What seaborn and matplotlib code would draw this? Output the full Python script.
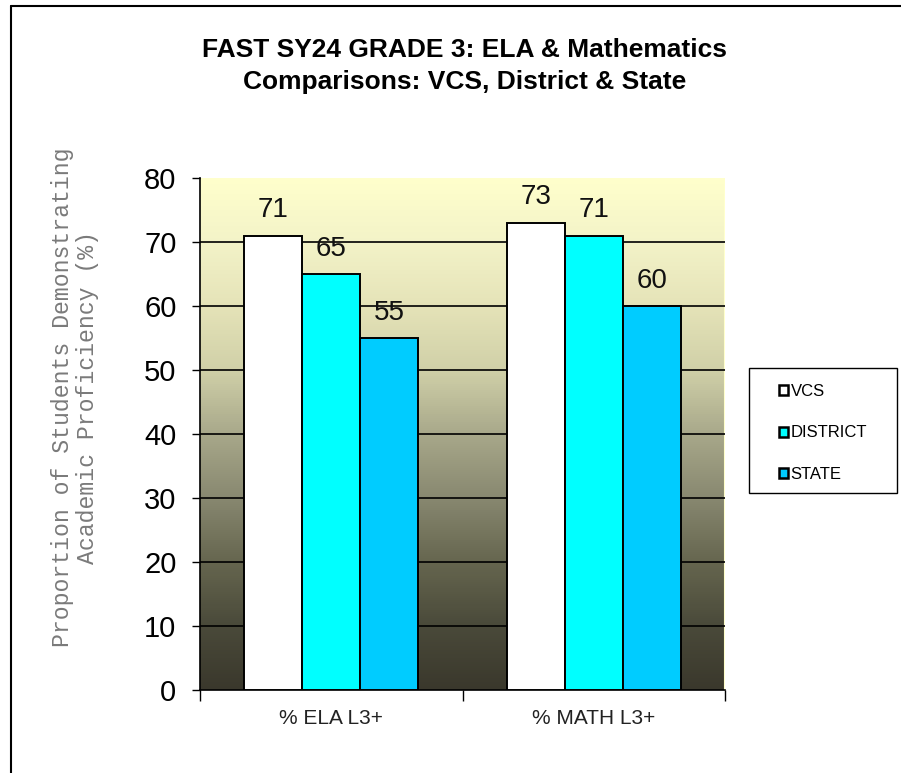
import matplotlib
matplotlib.use("Agg")
import matplotlib.pyplot as plt
import seaborn as sns
import numpy as np
import pandas as pd
from matplotlib.colors import LinearSegmentedColormap
from matplotlib.patches import Rectangle
from matplotlib.lines import Line2D

categories = ["% ELA L3+", "% MATH L3+"]
series = ["VCS", "DISTRICT", "STATE"]
vcs = [71, 73]
district = [65, 71]
state = [55, 60]
colors = ["#FFFFFF", "#00FFFF", "#00CCFF"]
yticks = [0, 10, 20, 30, 40, 50, 60, 70, 80]
title_lines = ["FAST SY24 GRADE 3: ELA & Mathematics", "Comparisons: VCS, District & State"]
ylabel = "Proportion of Students Demonstrating\nAcademic Proficiency (%)"

df = pd.DataFrame({
    "category": categories * 3,
    "series": ["VCS"] * 2 + ["DISTRICT"] * 2 + ["STATE"] * 2,
    "value": vcs + district + state,
})

sns.set_theme(style="white")
plt.rcParams["font.family"] = ["Liberation Sans", "DejaVu Sans"]
plt.rcParams["text.color"] = "black"

fig = plt.figure(figsize=(9.01, 7.73), dpi=100)
W, H = 901, 773
ax = fig.add_axes([200 / W, 1 - 690 / H, 525 / W, 512 / H])

# gradient background
grad_cmap = LinearSegmentedColormap.from_list("bg", [
    (0.0, "#3A382C"), (0.125, "#4A4A3A"), (0.25, "#66664F"), (0.375, "#888870"),
    (0.5, "#A8A88A"), (0.625, "#D0D0A8"), (0.75, "#E5E3B8"), (0.875, "#F3F3C8"),
    (1.0, "#FFFFCC")])
grad = np.linspace(0, 1, 256).reshape(-1, 1)
ax.imshow(grad, aspect="auto", cmap=grad_cmap, origin="lower",
          extent=[-0.5, 1.5, 0, 80], zorder=0)
ax.axvline(1.5, color="#FFFFCC", linewidth=1.5, zorder=1)

sns.barplot(data=df, x="category", y="value", hue="series", order=categories,
            hue_order=series, palette=colors, saturation=1, width=0.663,
            edgecolor="black", linewidth=1.4, ax=ax, zorder=3, legend=False)

ax.set_xlim(-0.5, 1.5)
ax.set_ylim(0, 80)
ax.set_yticks(yticks)
ax.set_yticklabels([str(t) for t in yticks], fontsize=21, color="black")
for t in yticks[1:-1]:
    ax.axhline(t, color="black", linewidth=1.2, zorder=1)
ax.set_xticks([0, 1])
ax.set_xticklabels(categories, fontsize=15, color="#222222")
ax.set_xticks([-0.5, 0.5, 1.5], minor=True)
ax.tick_params(axis="x", which="major", length=0, pad=14)
ax.tick_params(axis="x", which="minor", length=8, width=1, color="black", direction="out")
ax.tick_params(axis="y", length=6, width=1, color="black", direction="out", pad=11)
ax.yaxis.set_ticks_position("left")
ax.xaxis.set_ticks_position("bottom")
for s in ["top", "right"]:
    ax.spines[s].set_visible(False)
for s in ["left", "bottom"]:
    ax.spines[s].set_color("black")
    ax.spines[s].set_linewidth(1.2)
ax.set_xlabel("")
ax.set_ylabel("")

fig.text(75 / W, 1 - 397 / H, ylabel, rotation=90, ha="center", va="center",
         multialignment="center", family=["Liberation Mono", "DejaVu Sans Mono"],
         fontsize=16.7, color="#7a7a7a", linespacing=1.15)

for cont in ax.containers:
    ax.bar_label(cont, fmt="%d", fontsize=20, padding=9, color="#111111")

fig.text(465 / W, 1 - 50 / H, title_lines[0], ha="center", va="center", fontsize=19,
         fontweight="bold", color="black")
fig.text(465 / W, 1 - 82 / H, title_lines[1], ha="center", va="center", fontsize=19,
         fontweight="bold", color="black")

# legend
fig.add_artist(Rectangle((749 / W, 1 - 493 / H), 148 / W, 125 / H, transform=fig.transFigure,
                         facecolor="white", edgecolor="black", linewidth=1.0))
handles = [Rectangle((0, 0), 1, 1, facecolor=c, edgecolor="black", linewidth=1.8) for c in colors]
leg = fig.legend(handles, series, loc="center", bbox_to_anchor=(823 / W, 1 - 433 / H),
                 fontsize=12, frameon=False,
                 handlelength=0.55, handleheight=0.55, handletextpad=0.15,
                 labelspacing=1.58, borderpad=0, borderaxespad=0)
for t in leg.get_texts():
    t.set_color("black")

# outer border (left & top)
fig.add_artist(Line2D([11 / W, 11 / W], [0, 1 - 6 / H], transform=fig.transFigure,
                      color="black", linewidth=1.5))
fig.add_artist(Line2D([11 / W, 1], [1 - 6 / H, 1 - 6 / H], transform=fig.transFigure,
                      color="black", linewidth=1.5))

fig.savefig("out.png", dpi=100, facecolor="white")
